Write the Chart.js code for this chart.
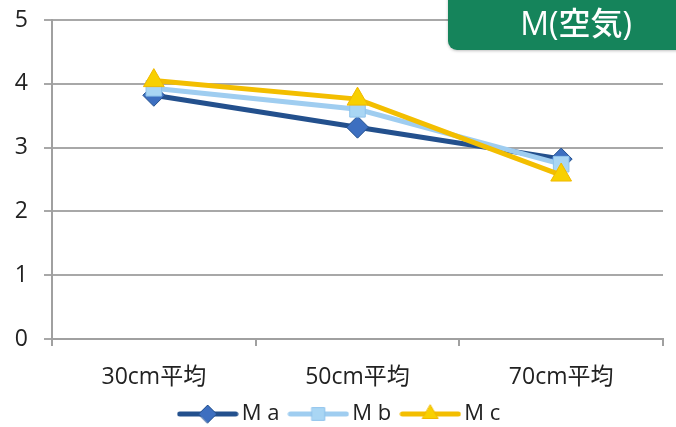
<!DOCTYPE html>
<html>
<head>
<meta charset="utf-8">
<script src="https://cdn.jsdelivr.net/npm/chart.js@4"></script>
<style>
  html, body { margin: 0; padding: 0; background: #ffffff; }
  #wrap { width: 676px; height: 427px; position: relative; }
</style>
</head>
<body>
<div id="wrap"><canvas id="c" width="676" height="427"></canvas></div>
<script>
// Depth categories and measured averages per sample
const categories = ['30cm平均', '50cm平均', '70cm平均'];
const seriesNames = ['M a', 'M b', 'M c'];
const valuesMa = [3.82, 3.32, 2.82];
const valuesMb = [3.93, 3.60, 2.74];
const valuesMc = [4.05, 3.76, 2.57];
const yTicks = [0, 1, 2, 3, 4, 5];
const titleText = 'M(空気)';

const FONT = "'Open Sans', 'Noto Sans CJK JP', sans-serif";

const styles = [
  { line: '#23508d', fill: '#3d6fc0', edge: '#23508d', point: 'rectRot', r: 11 },
  { line: '#9fcdf0', fill: '#a9d6f4', edge: '#8fc3ec', point: 'rect', r: 11 },
  { line: '#f3be00', fill: '#f8d000', edge: '#f0b800', point: 'triangle', r: 12 }
];

// Legend swatch: a short line with the series marker in the middle
function makeSwatch(s) {
  const cv = document.createElement('canvas');
  cv.width = 62; cv.height = 22;
  const g = cv.getContext('2d');
  g.strokeStyle = s.line; g.lineWidth = 5; g.lineCap = 'round';
  g.beginPath(); g.moveTo(3, 11); g.lineTo(59, 11); g.stroke();
  g.fillStyle = s.fill; g.strokeStyle = s.edge; g.lineWidth = 1;
  Chart.helpers.drawPoint(g, { pointStyle: s.point, radius: 9, rotation: 0, borderWidth: 1 }, 31, 11);
  return cv;
}

// Green title tab in the upper right corner
const titleBox = {
  id: 'titleBox',
  afterDraw(chart) {
    const ctx = chart.ctx;
    ctx.save();
    ctx.shadowColor = 'rgba(0,0,0,0.25)';
    ctx.shadowBlur = 3;
    ctx.shadowOffsetY = 1;
    ctx.fillStyle = '#15845b';
    ctx.beginPath();
    ctx.roundRect(448, -12, 250, 62, 9);
    ctx.fill();
    ctx.restore();
    ctx.save();
    ctx.fillStyle = '#ffffff';
    ctx.font = "500 32px " + FONT;
    ctx.textAlign = 'center';
    ctx.textBaseline = 'middle';
    ctx.fillText(titleText, 576, 26);
    ctx.restore();
  }
};

// Nudge the legend row a little to the right
const legendShift = {
  id: 'legendShift',
  afterUpdate(chart) {
    if (chart.legend) { chart.legend.left += 10; chart.legend.right += 10; }
  }
};

const rawData = [valuesMa, valuesMb, valuesMc];
const datasets = rawData.map((vals, i) => ({
  label: seriesNames[i],
  data: vals,
  borderColor: styles[i].line,
  backgroundColor: styles[i].fill,
  pointBackgroundColor: styles[i].fill,
  pointBorderColor: styles[i].edge,
  pointBorderWidth: 1,
  pointStyle: styles[i].point,
  pointRadius: styles[i].r,
  pointHoverRadius: styles[i].r,
  borderWidth: 5,
  tension: 0,
  order: 2 - i
}));

const swatches = styles.map(makeSwatch);

new Chart(document.getElementById('c'), {
  type: 'line',
  data: { labels: categories, datasets },
  plugins: [titleBox, legendShift],
  options: {
    responsive: false,
    animation: false,
    layout: { padding: { left: 0, right: 11, top: 20, bottom: -8 } },
    plugins: {
      tooltip: { enabled: false },
      legend: {
        position: 'bottom',
        labels: {
          usePointStyle: true,
          pointStyleWidth: 46,
          boxHeight: 22,
          padding: 16,
          color: '#222222',
          font: { family: FONT, size: 22, lineHeight: 1 },
          sort: (a, b) => a.datasetIndex - b.datasetIndex,
          generateLabels(chart) {
            const items = Chart.defaults.plugins.legend.labels.generateLabels(chart);
            items.forEach(it => { it.pointStyle = swatches[it.datasetIndex]; });
            return items;
          }
        }
      }
    },
    scales: {
      x: {
        offset: true,
        afterFit(scale) { scale.height = 48; },
        grid: { display: true, drawOnChartArea: false, drawTicks: true, tickLength: 7, color: '#a0a0a0', lineWidth: 2, offset: true },
        border: { display: true, color: '#a0a0a0', width: 2 },
        ticks: { color: '#222222', font: { family: FONT, size: 23 }, padding: 18 }
      },
      y: {
        min: 0, max: 5,
        afterFit(scale) { scale.width = 52; scale.paddingTop = 0; scale.paddingBottom = 0; },
        afterBuildTicks(scale) { scale.ticks = yTicks.map(v => ({ value: v })); },
        grid: { color: '#a8a8a8', lineWidth: 2, tickLength: 8, drawTicks: true },
        border: { display: true, color: '#a0a0a0', width: 2 },
        ticks: { color: '#222222', font: { family: FONT, size: 23 }, padding: 16, stepSize: 1 }
      }
    }
  }
});
</script>
</body>
</html>
